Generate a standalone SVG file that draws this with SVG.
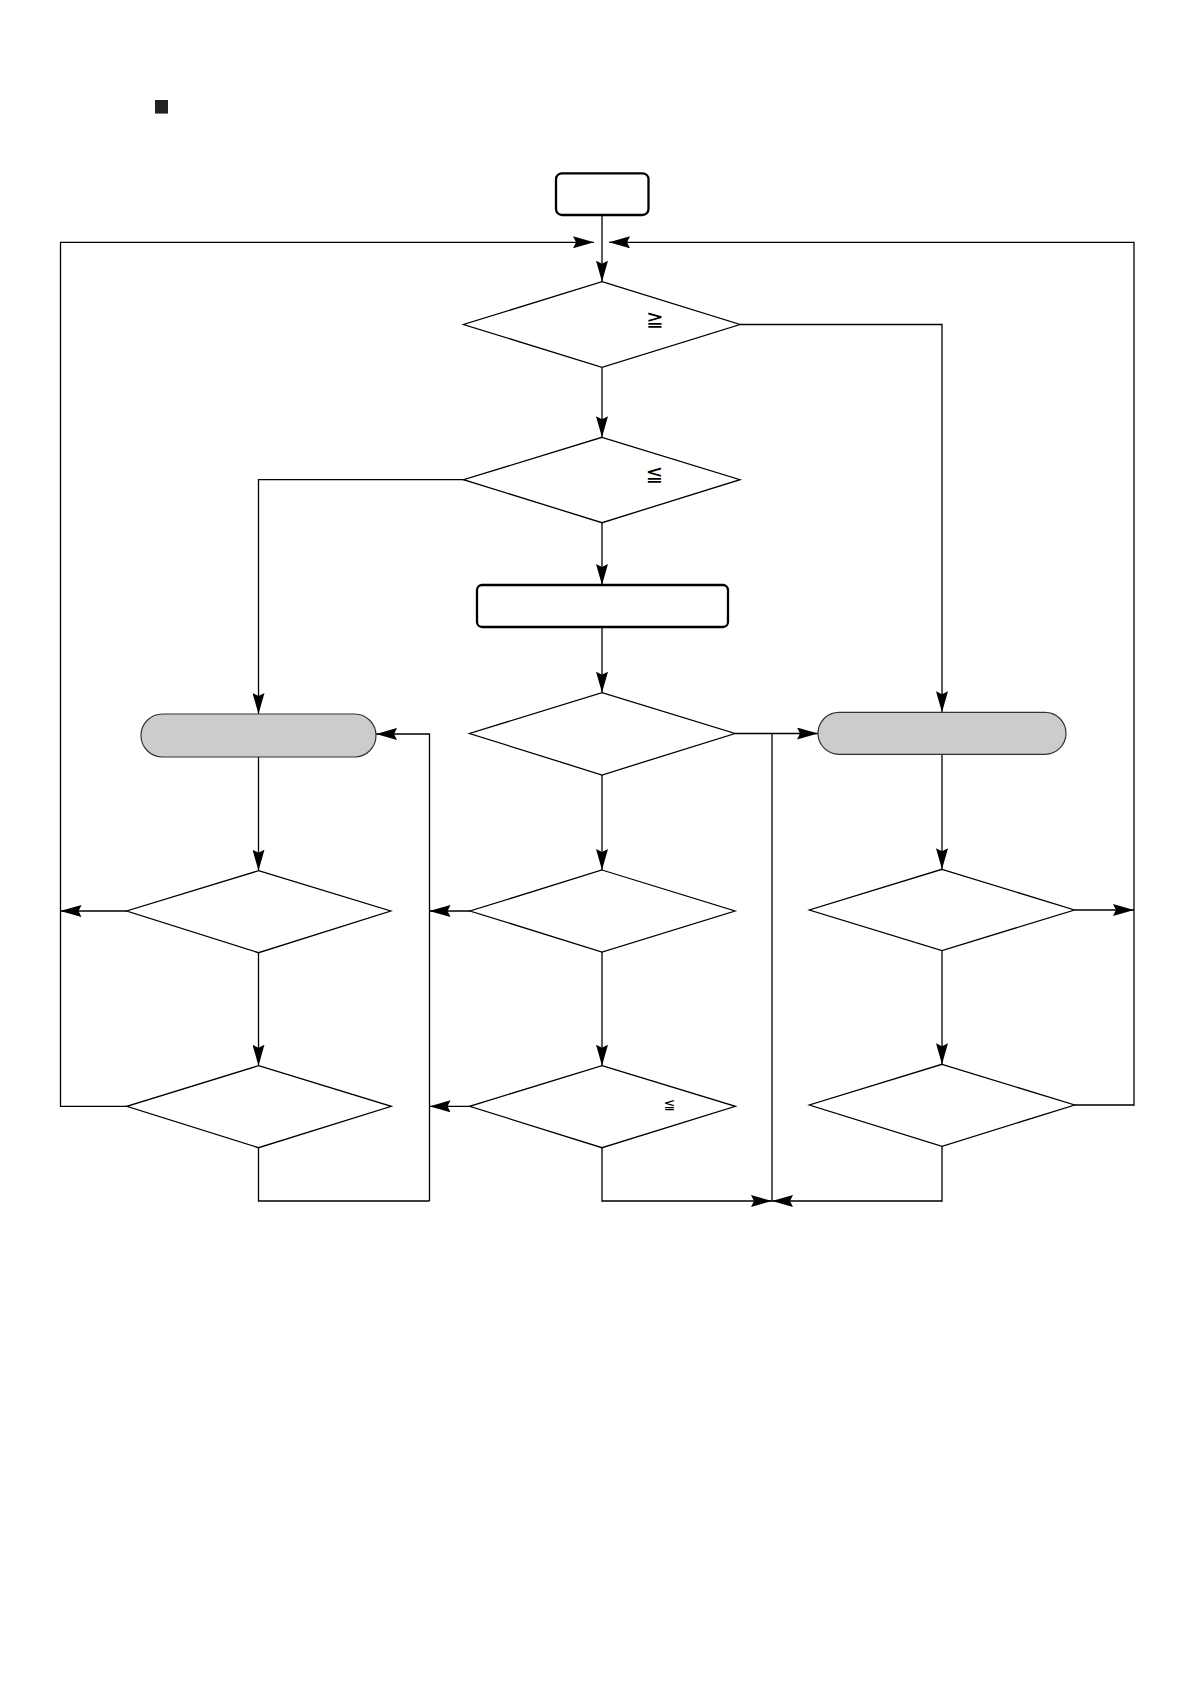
<svg xmlns="http://www.w3.org/2000/svg" width="1190" height="1682" viewBox="0 0 1190 1682">
  <style>
    .dec { fill: #ffffff; stroke: #000000; stroke-width: 1.3; }
    .box { fill: #ffffff; stroke: #000000; stroke-width: 2.3; }
    .term { fill: #cccccc; stroke: #333333; stroke-width: 1.2; }
    .wire { fill: none; stroke: #000000; stroke-width: 1.3; }
    .arr { marker-end: url(#ah); }
    .sym { font-family: "DejaVu Sans", "Noto Sans CJK JP", sans-serif; fill: #000000; text-anchor: middle; }
  </style>
  <defs>
    <marker id="ah" viewBox="0 0 21 12" refX="21" refY="6" markerWidth="21" markerHeight="12" markerUnits="userSpaceOnUse" orient="auto">
      <path d="M0,0 L21,6 L0,12 L3,6 Z" fill="#000000"/>
    </marker>
  </defs>
  <rect width="1190" height="1682" fill="#ffffff"/>

  <g id="bullet">
    <rect x="155" y="100" width="13" height="13.6" fill="#222222"/>
  </g>

  <g id="connectors">
    <path class="wire arr" d="M602,215 V281.7"/>
    <path class="wire arr" d="M126.8,1106.3 H60.5 V242.3 H594"/>
    <path class="wire arr" d="M1074.6,1105 H1134 V242.3 H609"/>
    <path class="wire arr" d="M740,324.5 H942 V712.3"/>
    <path class="wire arr" d="M602,367.3 V437.3"/>
    <path class="wire arr" d="M463.5,479.7 H258.5 V714"/>
    <path class="wire arr" d="M602,522.7 V585"/>
    <path class="wire arr" d="M602,627 V692.7"/>
    <path class="wire arr" d="M735,733.5 H818"/>
    <path class="wire" d="M772,733.5 V1201"/>
    <path class="wire arr" d="M602,775 V870"/>
    <path class="wire arr" d="M470,911 H429.5"/>
    <path class="wire arr" d="M429.5,1201 V734 H376"/>
    <path class="wire arr" d="M602,952 V1065.7"/>
    <path class="wire arr" d="M469.6,1106.3 H429.5"/>
    <path class="wire arr" d="M602,1147.7 V1201 H772"/>
    <path class="wire arr" d="M942,1146.3 V1201 H772"/>
    <path class="wire arr" d="M258.5,757 V870.7"/>
    <path class="wire arr" d="M126.7,911 H60.5"/>
    <path class="wire arr" d="M258.5,952.7 V1065.7"/>
    <path class="wire" d="M258.5,1147.7 V1201 H429.5"/>
    <path class="wire arr" d="M942,754.3 V869.3"/>
    <path class="wire arr" d="M1074.4,910 H1134"/>
    <path class="wire arr" d="M942,950.5 V1064.3"/>
  </g>

  <g id="start">
    <rect class="box" x="556" y="173.3" width="92.5" height="41.7" rx="6"/>
  </g>
  <g id="decision1">
    <polygon class="dec" points="602,281.7 740,324.5 602,367.3 463.5,324.5"/>
    <text class="sym" x="655" y="326" font-size="21">≧</text>
  </g>
  <g id="decision2">
    <polygon class="dec" points="602,437.3 740,479.7 602,522.7 463.5,479.7"/>
    <text class="sym" x="654.5" y="481" font-size="21">≦</text>
  </g>
  <g id="process">
    <rect class="box" x="477" y="585" width="251" height="42" rx="5"/>
  </g>
  <g id="decision3">
    <polygon class="dec" points="602,692.7 735,733.5 602,775 469.5,733.5"/>
  </g>
  <g id="decision4">
    <polygon class="dec" points="602,870 735,911 602,952 470,911"/>
  </g>
  <g id="decision5">
    <polygon class="dec" points="602,1065.7 735.4,1106.3 602,1147.7 469.6,1106.3"/>
    <text class="sym" x="669.5" y="1108.5" font-size="14">≦</text>
  </g>
  <g id="terminalLeft">
    <rect class="term" x="141" y="714" width="235" height="43" rx="21.5"/>
  </g>
  <g id="decisionLeft1">
    <polygon class="dec" points="258.5,870.7 390.7,911 258.5,952.7 126.7,911"/>
  </g>
  <g id="decisionLeft2">
    <polygon class="dec" points="258.5,1065.7 391.3,1106.3 258.5,1147.7 126.8,1106.3"/>
  </g>
  <g id="terminalRight">
    <rect class="term" x="818" y="712.3" width="248" height="42" rx="21"/>
  </g>
  <g id="decisionRight1">
    <polygon class="dec" points="942,869.3 1074.4,910 942,950.5 809.4,910"/>
  </g>
  <g id="decisionRight2">
    <polygon class="dec" points="942,1064.3 1074.6,1105 942,1146.3 809.4,1105"/>
  </g>
</svg>
